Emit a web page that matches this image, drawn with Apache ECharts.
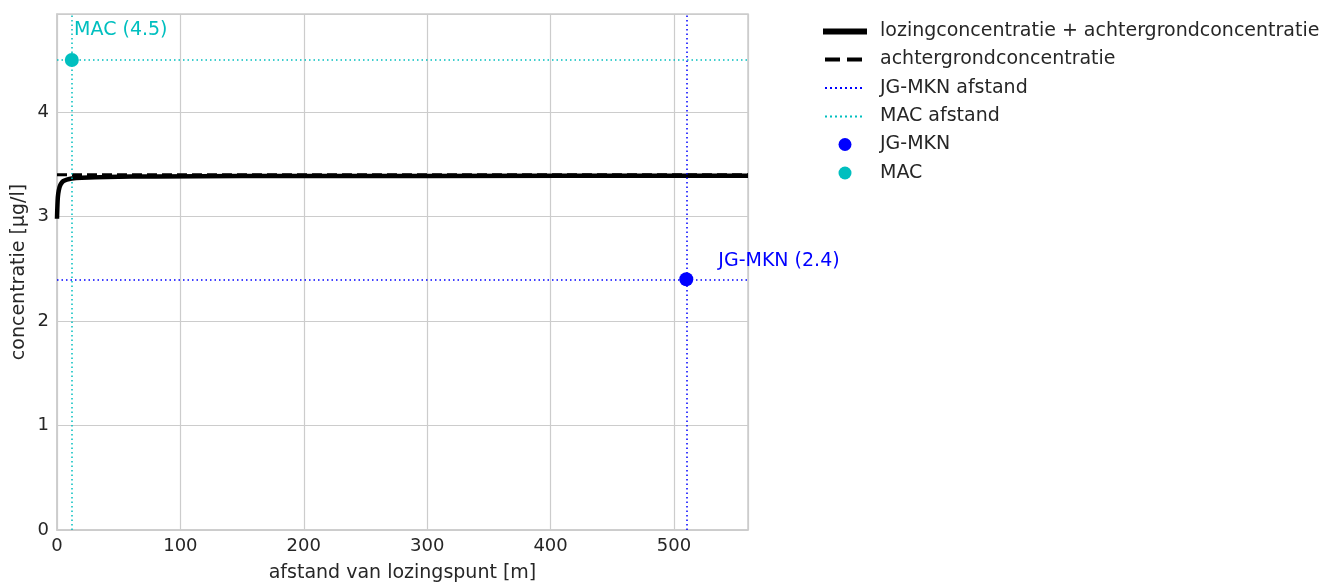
<!DOCTYPE html>
<html>
<head>
<meta charset="utf-8">
<title>concentratie</title>
<script src="https://cdn.jsdelivr.net/npm/echarts@6/dist/echarts.min.js"></script>
<style>
  html, body { margin: 0; padding: 0; background: #fff; }
  #main { width: 1332px; height: 583px; }
</style>
</head>
<body>
<div id="main"></div>
<script>
// afstand (m) en concentratie (µg/l)
let afstand = [0, 0.5, 1, 2, 3, 5, 8, 12, 20, 40, 80, 150, 300, 560];
let lozing = [2.98, 3.15, 3.22, 3.28, 3.31, 3.34, 3.355, 3.365, 3.372, 3.38, 3.385, 3.388, 3.39, 3.392];
let achtergrond = 3.4;
let xAsMax = 560;
let yAsMax = 4.94;

// normen
let jgmkn = { afstand: 510, waarde: 2.4 };
let mac = { afstand: 12, waarde: 4.5 };

let namen = ['lozingconcentratie + achtergrondconcentratie', 'achtergrondconcentratie',
  'JG-MKN afstand', 'MAC afstand', 'JG-MKN', 'MAC'];

let blauw = '#0000ff';
let cyaan = '#00bfbf';
let tekst = '#262626';
let font = 'DejaVu Sans';

let lijn1 = afstand.map(function (x, i) { return [x, lozing[i]]; });
let lijn2 = [[0, achtergrond], [xAsMax, achtergrond]];

// legenda: één blok per regel, zodat elk icoon zijn eigen vorm krijgt
let stippen = '';
for (let i = 0; i < 8; i++) stippen += 'M' + (i * 5) + ',0h2v2h-2z ';
let iconen = [
  { icon: 'path://M0,0H44V6H0Z', left: 823, w: 44, h: 6 },
  { icon: 'path://M0,0H15V4H0Z M22,0H37V4H22Z', left: 825, w: 37, h: 4 },
  { icon: 'path://' + stippen, left: 825, w: 37, h: 2 },
  { icon: 'path://' + stippen, left: 825, w: 37, h: 2 },
  { icon: 'circle', left: 838.5, w: 13, h: 13 },
  { icon: 'circle', left: 838.5, w: 13, h: 13 }
];
let regels = [30, 58, 86.5, 115, 143, 171.5];
let tekstStart = 880;

let legendas = namen.map(function (n, i) {
  let ic = iconen[i];
  return {
    left: ic.left, top: regels[i] - 8,
    padding: 0,
    itemWidth: ic.w, itemHeight: ic.h,
    icon: ic.icon,
    selectedMode: false,
    data: [n],
    textStyle: {
      fontSize: 19, color: tekst, fontFamily: font,
      padding: [0, 0, 0, tekstStart - ic.left - ic.w - 5]
    }
  };
});

var myChart = echarts.init(document.getElementById('main'));

myChart.setOption({
  animation: false,
  textStyle: { fontFamily: font },
  grid: {
    left: 57, right: 584, top: 14, bottom: 53,
    containLabel: false, outerBoundsMode: 'none',
    show: true, borderColor: '#cccccc', borderWidth: 1.5
  },
  legend: legendas,
  xAxis: {
    type: 'value',
    min: 0, max: xAsMax, interval: 100,
    name: 'afstand van lozingspunt [m]',
    nameLocation: 'middle', nameGap: 34,
    nameTextStyle: { fontSize: 19, color: tekst },
    axisLine: { show: true, lineStyle: { color: '#cccccc', width: 1.5 } },
    axisTick: { show: false },
    axisLabel: { fontSize: 18, color: tekst, margin: 7, showMaxLabel: false },
    splitLine: { show: true, lineStyle: { color: '#cccccc', width: 1.2 } }
  },
  yAxis: {
    type: 'value',
    min: 0, max: yAsMax, interval: 1,
    name: 'concentratie [µg/l]',
    nameLocation: 'middle', nameGap: 28, nameMoveOverlap: false,
    nameTextStyle: { fontSize: 19, color: tekst },
    axisLine: { show: true, lineStyle: { color: '#cccccc', width: 1.5 } },
    axisTick: { show: false },
    axisLabel: { fontSize: 18, color: tekst, margin: 8, showMaxLabel: false },
    splitLine: { show: true, lineStyle: { color: '#cccccc', width: 1.2 } }
  },
  series: [
    {
      name: namen[0],
      type: 'line',
      data: lijn1,
      smooth: 0.3,
      showSymbol: false, symbol: 'none',
      lineStyle: { color: '#000', width: 4.5 },
      itemStyle: { color: '#000' },
      z: 3
    },
    {
      name: namen[1],
      type: 'line',
      data: lijn2,
      showSymbol: false, symbol: 'none',
      lineStyle: { color: '#000', width: 3, type: [10, 5] },
      itemStyle: { color: '#000' },
      z: 2
    },
    {
      name: namen[2],
      type: 'line',
      data: [],
      symbol: 'none',
      lineStyle: { color: blauw, width: 1.5, type: [1.5, 3] },
      itemStyle: { color: blauw },
      markLine: {
        silent: true, symbol: 'none', animation: false,
        label: { show: false },
        lineStyle: { color: blauw, width: 1.5, type: [1.5, 3] },
        data: [{ xAxis: jgmkn.afstand }, { yAxis: jgmkn.waarde }]
      }
    },
    {
      name: namen[3],
      type: 'line',
      data: [],
      symbol: 'none',
      lineStyle: { color: cyaan, width: 1.5, type: [1.5, 3] },
      itemStyle: { color: cyaan },
      markLine: {
        silent: true, symbol: 'none', animation: false,
        label: { show: false },
        lineStyle: { color: cyaan, width: 1.5, type: [1.5, 3] },
        data: [{ xAxis: mac.afstand }, { yAxis: mac.waarde }]
      }
    },
    {
      name: namen[4],
      type: 'scatter',
      data: [[jgmkn.afstand, jgmkn.waarde]],
      symbolSize: 14,
      itemStyle: { color: blauw, opacity: 1 },
      label: {
        show: true, position: 'right', offset: [20, -18],
        formatter: 'JG-MKN (' + jgmkn.waarde + ')',
        color: blauw, fontSize: 19
      },
      z: 5
    },
    {
      name: namen[5],
      type: 'scatter',
      data: [[mac.afstand, mac.waarde]],
      symbolSize: 14,
      itemStyle: { color: cyaan, opacity: 1 },
      label: {
        show: true, position: 'top', offset: [49, -8],
        formatter: 'MAC (' + mac.waarde + ')',
        color: cyaan, fontSize: 19
      },
      z: 5
    }
  ]
});
</script>
</body>
</html>
